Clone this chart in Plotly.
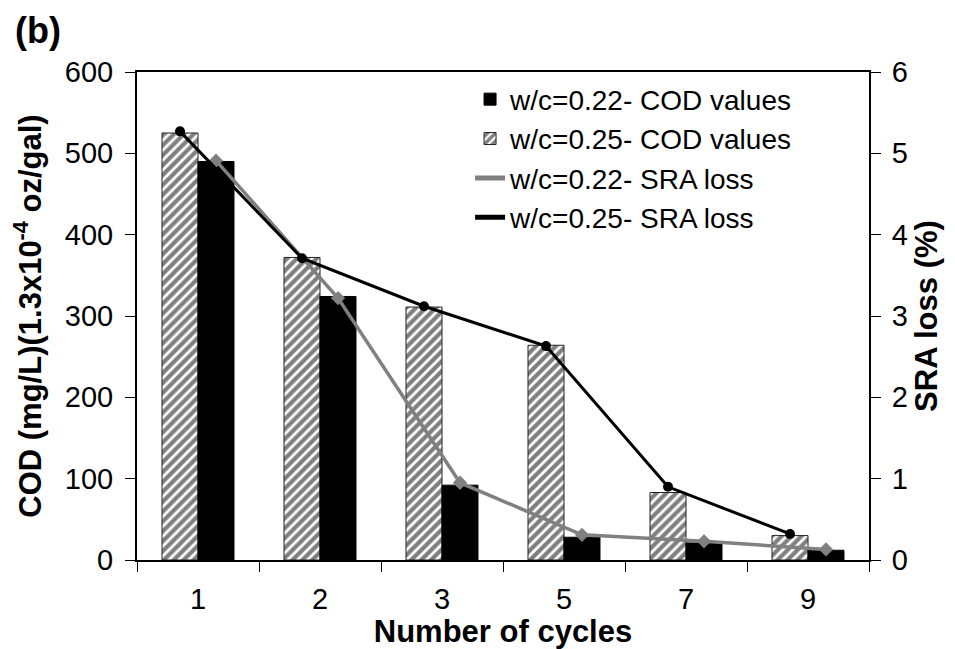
import plotly.graph_objects as go

categories = ["1", "2", "3", "5", "7", "9"]
cod_022 = [490, 324, 92, 28, 21, 12]
cod_025 = [525, 372, 311, 264, 83, 30]
sra_022 = [4.91, 3.22, 0.95, 0.31, 0.23, 0.13]
sra_025 = [5.27, 3.71, 3.12, 2.63, 0.90, 0.32]

FONT = "Liberation Sans, Arial, sans-serif"
bargap = 0.41
bar_w = (1 - bargap) / 2
pos = list(range(len(categories)))
pos_left = [p - bar_w / 2 for p in pos]
pos_right = [p + bar_w / 2 for p in pos]

fig = go.Figure()
fig.add_trace(go.Bar(
    x=pos, y=cod_025, name="w/c=0.25- COD values", legendrank=2,
    marker=dict(color="white", line=dict(color="#222222", width=1),
                pattern=dict(shape="/", fgcolor="black", bgcolor="white", size=7, solidity=0.6)),
))
fig.add_trace(go.Bar(
    x=pos, y=cod_022, name="w/c=0.22- COD values", legendrank=1,
    marker=dict(color="black", line=dict(color="black", width=1)),
))
fig.add_trace(go.Scatter(
    x=pos_right, y=sra_022, yaxis="y2", mode="lines+markers", showlegend=False,
    line=dict(color="#808080", width=3.5),
    marker=dict(symbol="diamond", size=11, color="#808080"),
))
fig.add_trace(go.Scatter(
    x=pos_left, y=sra_025, yaxis="y2", mode="lines+markers", showlegend=False,
    line=dict(color="black", width=3),
    marker=dict(symbol="circle", size=10, color="black"),
))
fig.add_trace(go.Scatter(
    x=[None], y=[None], yaxis="y2", mode="lines", name="w/c=0.22- SRA loss", legendrank=3,
    line=dict(color="#808080", width=5),
))
fig.add_trace(go.Scatter(
    x=[None], y=[None], yaxis="y2", mode="lines", name="w/c=0.25- SRA loss", legendrank=4,
    line=dict(color="black", width=5),
))

fig.update_layout(
    width=955, height=649,
    margin=dict(l=137, r=86, t=72, b=89, autoexpand=False),
    paper_bgcolor="white", plot_bgcolor="white",
    font=dict(family=FONT, size=28, color="black"),
    barmode="group", bargap=bargap, bargroupgap=0,
    showlegend=True,
    legend=dict(x=0.455, y=0.995, xanchor="left", yanchor="top",
                bgcolor="rgba(0,0,0,0)", font=dict(size=28), traceorder="normal"),
    xaxis=dict(
        range=[-0.5, len(categories) - 0.5], tickvals=pos, ticktext=categories,
        ticks="", showgrid=False, zeroline=False, automargin=False,
        showline=True, linecolor="black", linewidth=2, mirror=True,
        minor=dict(ticks="outside", tick0=-0.5, dtick=1, ticklen=10, tickcolor="black", tickwidth=1, showgrid=False),
        ticklabelstandoff=12,
        title=dict(text="<b>Number of cycles</b>", font=dict(size=31), standoff=2),
        tickfont=dict(size=29),
    ),
    yaxis=dict(
        range=[0, 600], dtick=100, ticks="outside", ticklen=10, tickcolor="black",
        showgrid=False, zeroline=False, showline=True, linecolor="black", linewidth=2,
        automargin=False, ticklabelstandoff=6,
        title=dict(text="<b>COD (mg/L)(1.3x10<sup>-4</sup> oz/gal)</b>", font=dict(size=31), standoff=14),
        tickfont=dict(size=29),
    ),
    yaxis2=dict(
        range=[0, 6], dtick=1, overlaying="y", side="right", ticks="outside", ticklen=10,
        tickcolor="black", showgrid=False, zeroline=False, showline=True,
        linecolor="black", linewidth=2, automargin=False, ticklabelstandoff=5,
        title=dict(text="<b>SRA loss (%)</b>", font=dict(size=31), standoff=8),
        tickfont=dict(size=29),
    ),
    annotations=[dict(text="<b>(b)</b>", xref="paper", yref="paper", x=-0.17, y=1.085,
                      xanchor="left", yanchor="middle", showarrow=False, font=dict(size=36))],
)

fig.write_html("out.html", config={"displayModeBar": False},
               post_script="document.body.style.margin='0px';")
